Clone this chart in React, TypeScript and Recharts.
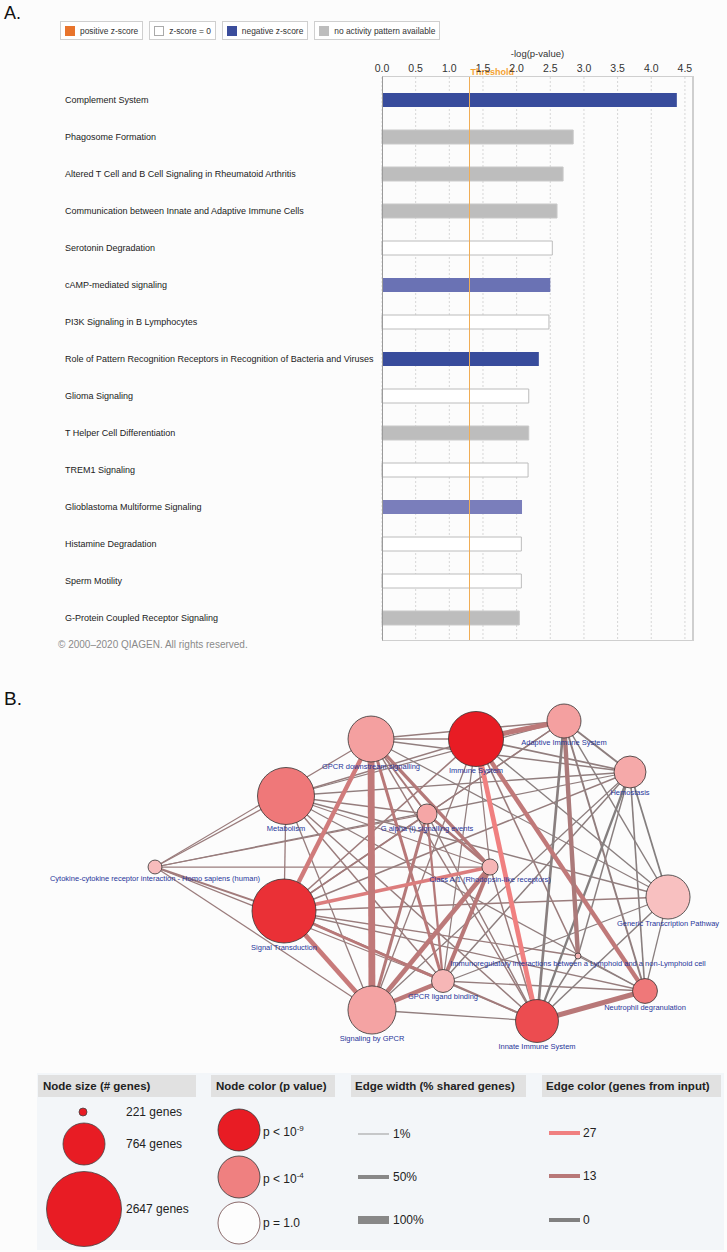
import React from 'react';
import {
  BarChart, Bar, XAxis, YAxis, CartesianGrid, ReferenceLine, Cell,
  ScatterChart, Scatter, ZAxis, LabelList,
} from 'recharts';

// ---- A. canonical pathways ----
const pathways = [
  'Complement System',
  'Phagosome Formation',
  'Altered T Cell and B Cell Signaling in Rheumatoid Arthritis',
  'Communication between Innate and Adaptive Immune Cells',
  'Serotonin Degradation',
  'cAMP-mediated signaling',
  'PI3K Signaling in B Lymphocytes',
  'Role of Pattern Recognition Receptors in Recognition of Bacteria and Viruses',
  'Glioma Signaling',
  'T Helper Cell Differentiation',
  'TREM1 Signaling',
  'Glioblastoma Multiforme Signaling',
  'Histamine Degradation',
  'Sperm Motility',
  'G-Protein Coupled Receptor Signaling',
];
const negLogP = [4.38, 2.84, 2.69, 2.6, 2.53, 2.5, 2.48, 2.33, 2.18, 2.18, 2.17, 2.08, 2.07, 2.07, 2.04];
// null = no activity pattern available
const zScores: (number | null)[] = [-2.65, null, null, null, 0, -1.0, 0, -2.53, 0, null, 0, -0.54, 0, 0, null];
const axisTicks = [0, 0.5, 1, 1.5, 2, 2.5, 3, 3.5, 4, 4.5];
const threshold = 1.3;

// ---- B. pathway network ----
const nodeIds = ['GD', 'IS', 'AI', 'HE', 'ME', 'GA', 'CA', 'CY', 'ST', 'GT', 'IR', 'GL', 'NE', 'II', 'SG'];
const nodeNames = [
  'GPCR downstream signalling',
  'Immune System',
  'Adaptive Immune System',
  'Hemostasis',
  'Metabolism',
  'G alpha (i) signalling events',
  'Class A/1 (Rhodopsin-like receptors)',
  'Cytokine-cytokine receptor interaction - Homo sapiens (human)',
  'Signal Transduction',
  'Generic Transcription Pathway',
  'Immunoregulatory interactions between a Lymphoid and a non-Lymphoid cell',
  'GPCR ligand binding',
  'Neutrophil degranulation',
  'Innate Immune System',
  'Signaling by GPCR',
];
// layout coordinates of the network
const nodeX = [371, 476, 564, 630, 286, 427, 490, 155, 284, 668, 578, 443, 645, 537, 372];
const nodeY = [59, 59, 41, 92, 116, 134, 187, 187, 231, 217, 276, 301, 311, 341, 330];
const nodeGenes = [1460, 2010, 890, 810, 2140, 440, 355, 315, 2647, 1360, 221, 515, 570, 1300, 1580];
const nodeNegLogP = [3.0, 10, 3.0, 2.7, 4.4, 2.8, 2.3, 2.1, 8.0, 2.0, 2.3, 2.3, 4.4, 6.6, 2.9];

// [from, to, % shared genes, genes from input]
const edgeList: [string, string, number, number][] = [
  ['IS', 'AI', 60, 14], ['IS', 'II', 55, 27], ['IS', 'NE', 50, 15],
  ['GD', 'SG', 85, 15], ['ST', 'GD', 50, 19], ['ST', 'SG', 55, 17],
  ['ST', 'CA', 35, 22], ['SG', 'CA', 55, 14], ['SG', 'GL', 50, 14],
  ['GL', 'CA', 45, 13], ['GD', 'CA', 35, 12], ['GD', 'GL', 30, 13],
  ['II', 'NE', 60, 13], ['AI', 'IR', 50, 10], ['GA', 'SG', 30, 12],
  ['GA', 'CA', 25, 11], ['ST', 'GL', 30, 13], ['ST', 'II', 15, 8],
  ['IS', 'GD', 10, 6], ['IS', 'ME', 8, 5], ['IS', 'HE', 12, 4],
  ['IS', 'GT', 8, 2], ['IS', 'ST', 10, 7], ['IS', 'SG', 6, 5],
  ['IS', 'CA', 5, 5], ['IS', 'GL', 5, 4], ['IS', 'IR', 10, 6],
  ['AI', 'HE', 15, 3], ['AI', 'GD', 8, 5], ['AI', 'ST', 8, 6],
  ['AI', 'ME', 5, 4], ['AI', 'II', 25, 2], ['AI', 'NE', 15, 4],
  ['AI', 'GT', 8, 2], ['AI', 'GA', 5, 5], ['HE', 'GD', 8, 4],
  ['HE', 'ME', 6, 4], ['HE', 'ST', 10, 5], ['HE', 'II', 20, 1],
  ['HE', 'NE', 10, 2], ['HE', 'GT', 12, 1], ['HE', 'IR', 8, 2],
  ['HE', 'SG', 5, 3], ['HE', 'GL', 8, 3], ['HE', 'CY', 5, 4],
  ['ME', 'ST', 6, 6], ['ME', 'GA', 6, 5], ['ME', 'CA', 6, 5],
  ['ME', 'GT', 6, 4], ['ME', 'II', 8, 5], ['ME', 'SG', 6, 5],
  ['ME', 'GL', 8, 6], ['ME', 'NE', 5, 4], ['ME', 'CY', 6, 6],
  ['GD', 'GA', 15, 9], ['GD', 'II', 8, 6], ['GD', 'GT', 5, 3],
  ['GD', 'CY', 5, 6], ['GA', 'GL', 20, 12], ['GA', 'ST', 10, 8],
  ['GA', 'II', 8, 5], ['GA', 'CY', 5, 6], ['CA', 'CY', 5, 6],
  ['CA', 'II', 8, 6], ['ST', 'GT', 8, 6], ['ST', 'NE', 6, 5],
  ['ST', 'IR', 6, 6], ['ST', 'CY', 15, 8], ['SG', 'II', 6, 4],
  ['SG', 'CY', 5, 6], ['GT', 'II', 8, 2], ['GT', 'NE', 5, 2],
  ['GT', 'SG', 5, 3], ['GL', 'II', 8, 5], ['GL', 'NE', 6, 5],
  ['IR', 'II', 8, 2], ['IR', 'NE', 5, 3], ['CY', 'GL', 5, 6],
];

const FONT = '"Liberation Sans", Arial, Helvetica, sans-serif';

const mix = (a: number[], b: number[], t: number) =>
  `rgb(${a.map((v, i) => Math.round(v + (b[i] - v) * t)).join(',')})`;

const barFill = (z: number | null) => {
  if (z === null) return '#bdbdbd';
  if (z === 0) return '#ffffff';
  return mix([140, 140, 196], [56, 76, 156], Math.min(-z / 2.5, 1));
};
const barStroke = (z: number | null) => (z === null ? '#c9c9c9' : z === 0 ? '#bcbcbc' : 'none');

const nodeFill = (lp: number) =>
  lp <= 4
    ? mix([255, 255, 255], [240, 128, 128], lp / 4)
    : mix([240, 128, 128], [232, 28, 36], Math.min((lp - 4) / 5, 1));

const edgeColor = (g: number) =>
  g <= 13
    ? mix([128, 128, 128], [184, 120, 120], g / 13)
    : mix([184, 120, 120], [240, 128, 128], Math.min((g - 13) / 14, 1));
const edgeWidth = (pct: number) => 0.9 + pct * 0.07;

const barRows = pathways.map((name, i) => ({ name, value: negLogP[i], z: zScores[i] }));

const nodeRows = nodeIds.map((id, i) => ({
  id, name: nodeNames[i], x: nodeX[i], y: nodeY[i], genes: nodeGenes[i], lp: nodeNegLogP[i],
}));
const nodeById = Object.fromEntries(nodeRows.map((n) => [n.id, n]));
const edgeRows = edgeList
  .map(([a, b, shared, genes]) => ({ a: nodeById[a], b: nodeById[b], shared, genes }))
  .sort((p, q) => p.shared - q.shared);

const CatTick = ({ y, payload }: any) => (
  <text x={65} y={y} dy={3.2} fontSize={9} fill="#222" fontFamily={FONT}>
    {payload.value}
  </text>
);

const ThresholdLabel = ({ viewBox }: any) => (
  <text x={viewBox.x + 1} y={viewBox.y - 2} fill="#f5a233" fontSize={9} fontWeight="bold" fontFamily={FONT}>
    Threshold
  </text>
);

const NodeShape = (p: any) => (
  <circle cx={p.cx} cy={p.cy} r={p.width / 2} fill={nodeFill(p.payload.lp)} stroke="#333" strokeWidth={0.8} />
);

const NodeLabel = (p: any) => {
  const vb = p.viewBox || p;
  return (
    <text
      x={vb.x + vb.width / 2}
      y={vb.y + vb.height + 1}
      dy="0.75em"
      textAnchor="middle"
      fill="#27359a"
      fontSize={7.5}
      fontFamily={FONT}
    >
      {p.value}
    </text>
  );
};

const zLegend = [
  { label: 'positive z-score', fill: '#e8742c', stroke: '#e8742c' },
  { label: 'z-score = 0', fill: '#ffffff', stroke: '#aaa' },
  { label: 'negative z-score', fill: '#3b4d9c', stroke: '#3b4d9c' },
  { label: 'no activity pattern available', fill: '#bdbdbd', stroke: '#bdbdbd' },
];

function PathwayChart() {
  return (
    <BarChart
      layout="vertical"
      width={727}
      height={650}
      data={barRows}
      margin={{ top: 47, right: 34, bottom: 10, left: 0 }}
    >
      <CartesianGrid horizontal={false} strokeDasharray="2 2" stroke="#d6d6d6" />
      <XAxis
        type="number"
        orientation="top"
        domain={[0, 4.62]}
        ticks={axisTicks}
        tickFormatter={(v: number) => v.toFixed(1)}
        axisLine={false}
        tickLine={false}
        tickSize={3}
        tickMargin={2}
        height={30}
        tick={{ fontSize: 10.5, fill: '#333', fontFamily: FONT }}
        label={{ value: '-log(p-value)', position: 'insideTop', offset: 3, fontSize: 9.5, fill: '#333', fontFamily: FONT }}
      />
      <YAxis
        type="category"
        dataKey="name"
        width={382}
        axisLine={false}
        tickLine={false}
        tick={CatTick}
        interval={0}
        padding={{ top: 4, bottom: 4 }}
      />
      <ReferenceLine x={threshold} stroke="#f0ad55" strokeWidth={1} label={ThresholdLabel} />
      <Bar dataKey="value" barSize={14} isAnimationActive={false}>
        {barRows.map((r, i) => (
          <Cell key={i} fill={barFill(r.z)} stroke={barStroke(r.z)} strokeWidth={1} />
        ))}
      </Bar>
    </BarChart>
  );
}

function NetworkChart() {
  return (
    <ScatterChart width={727} height={385} margin={{ top: 0, right: 0, bottom: 0, left: 0 }}>
      <XAxis type="number" dataKey="x" domain={[0, 727]} hide />
      <YAxis type="number" dataKey="y" domain={[0, 385]} reversed hide />
      <ZAxis type="number" dataKey="genes" domain={[221, 2647]} range={[28, 3217]} />
      {edgeRows.map((e, i) => (
        <ReferenceLine
          key={i}
          segment={[{ x: e.a.x, y: e.a.y }, { x: e.b.x, y: e.b.y }]}
          stroke={edgeColor(e.genes)}
          strokeWidth={edgeWidth(e.shared)}
        />
      ))}
      <Scatter data={nodeRows} shape={NodeShape} isAnimationActive={false}>
        <LabelList dataKey="name" content={NodeLabel} />
      </Scatter>
    </ScatterChart>
  );
}

const headerStyle: React.CSSProperties = {
  position: 'absolute', top: 1075, height: 22, lineHeight: '22px', background: '#e1e1e1',
  fontWeight: 'bold', fontSize: 11.5, color: '#222', paddingLeft: 5, boxSizing: 'border-box',
};

function NetworkLegend() {
  const t = { fontSize: 12, fill: '#222', fontFamily: FONT };
  return (
    <>
      <div style={{ position: 'absolute', left: 37, top: 1073, width: 687, height: 177, background: '#f3f6f9' }} />
      <div style={{ ...headerStyle, left: 38, width: 158 }}>Node size (# genes)</div>
      <div style={{ ...headerStyle, left: 211, width: 124 }}>Node color (p value)</div>
      <div style={{ ...headerStyle, left: 351, width: 175, paddingLeft: 4 }}>Edge width (% shared genes)</div>
      <div style={{ ...headerStyle, left: 542, width: 179, paddingLeft: 4 }}>Edge color (genes from input)</div>
      <svg style={{ position: 'absolute', left: 0, top: 1065 }} width={727} height={187}>
        <circle cx={83} cy={47} r={4} fill="#e81c24" stroke="#444" strokeWidth={0.8} />
        <circle cx={84} cy={79} r={21} fill="#e81c24" stroke="#444" strokeWidth={0.8} />
        <circle cx={84} cy={144} r={37.5} fill="#e81c24" stroke="#444" strokeWidth={0.8} />
        <text x={126} y={47} dy="0.35em" {...t}>221 genes</text>
        <text x={126} y={79} dy="0.35em" {...t}>764 genes</text>
        <text x={126} y={144} dy="0.35em" {...t}>2647 genes</text>

        <circle cx={239} cy={65} r={21} fill="#e81c24" stroke="#333" strokeWidth={0.8} />
        <circle cx={239} cy={112} r={21} fill="#ef8080" stroke="#333" strokeWidth={0.8} />
        <circle cx={239} cy={158} r={21} fill="#fdfdfd" stroke="#6d4545" strokeWidth={0.8} />
        <text x={263} y={67} dy="0.35em" {...t}>p &lt; 10<tspan fontSize={8} dy="-5">-9</tspan></text>
        <text x={263} y={114} dy="0.35em" {...t}>p &lt; 10<tspan fontSize={8} dy="-5">-4</tspan></text>
        <text x={263} y={158} dy="0.35em" {...t}>p = 1.0</text>

        <line x1={358} x2={389} y1={69} y2={69} stroke="#999" strokeWidth={1} />
        <line x1={358} x2={389} y1={112} y2={112} stroke="#888" strokeWidth={4} />
        <line x1={358} x2={389} y1={155} y2={155} stroke="#888" strokeWidth={8} />
        <text x={393} y={69} dy="0.35em" {...t}>1%</text>
        <text x={393} y={112} dy="0.35em" {...t}>50%</text>
        <text x={393} y={155} dy="0.35em" {...t}>100%</text>

        <line x1={549} x2={580} y1={68} y2={68} stroke="#f08080" strokeWidth={4} />
        <line x1={549} x2={580} y1={111} y2={111} stroke="#b87878" strokeWidth={4} />
        <line x1={549} x2={580} y1={155} y2={155} stroke="#808080" strokeWidth={4} />
        <text x={583} y={68} dy="0.35em" {...t}>27</text>
        <text x={583} y={111} dy="0.35em" {...t}>13</text>
        <text x={583} y={155} dy="0.35em" {...t}>0</text>
      </svg>
    </>
  );
}

export default function App() {
  return (
    <div
      style={{
        position: 'absolute', left: 0, top: 0, width: 727, height: 1252,
        background: '#fcfcfc', fontFamily: FONT, overflow: 'hidden',
      }}
    >
      <div style={{ position: 'absolute', left: 4, top: 4, fontSize: 18, lineHeight: '18px', color: '#111' }}>A.</div>
      <div style={{ position: 'absolute', left: 60, top: 21, display: 'flex', gap: 6 }}>
        {zLegend.map((item) => (
          <div
            key={item.label}
            style={{
              display: 'flex', alignItems: 'center', height: 17, padding: '0 4px',
              border: '1px solid #cfcfcf', background: '#fff', fontSize: 8.4, color: '#333',
            }}
          >
            <span
              style={{
                width: 8, height: 8, background: item.fill, border: `1px solid ${item.stroke}`,
                marginRight: 5, display: 'inline-block',
              }}
            />
            {item.label}
          </div>
        ))}
      </div>
      <div style={{ position: 'absolute', left: 0, top: 0, width: 727, height: 650 }}>
        <PathwayChart />
      </div>
      <div
        style={{
          position: 'absolute', left: 382, top: 76, width: 312, height: 565, boxSizing: 'border-box',
          border: '1px solid #cfcfcf', borderLeft: '1px solid #9a9a9a', borderRight: '2px solid #cfcfcf',
          pointerEvents: 'none',
        }}
      />
      <div style={{ position: 'absolute', left: 58, top: 639, fontSize: 10, color: '#8a8a8a' }}>
        © 2000–2020 QIAGEN. All rights reserved.
      </div>

      <div style={{ position: 'absolute', left: 4, top: 689, fontSize: 19, lineHeight: '19px', color: '#111' }}>B.</div>
      <div style={{ position: 'absolute', left: 0, top: 680, width: 727, height: 385 }}>
        <NetworkChart />
      </div>
      <NetworkLegend />
    </div>
  );
}
